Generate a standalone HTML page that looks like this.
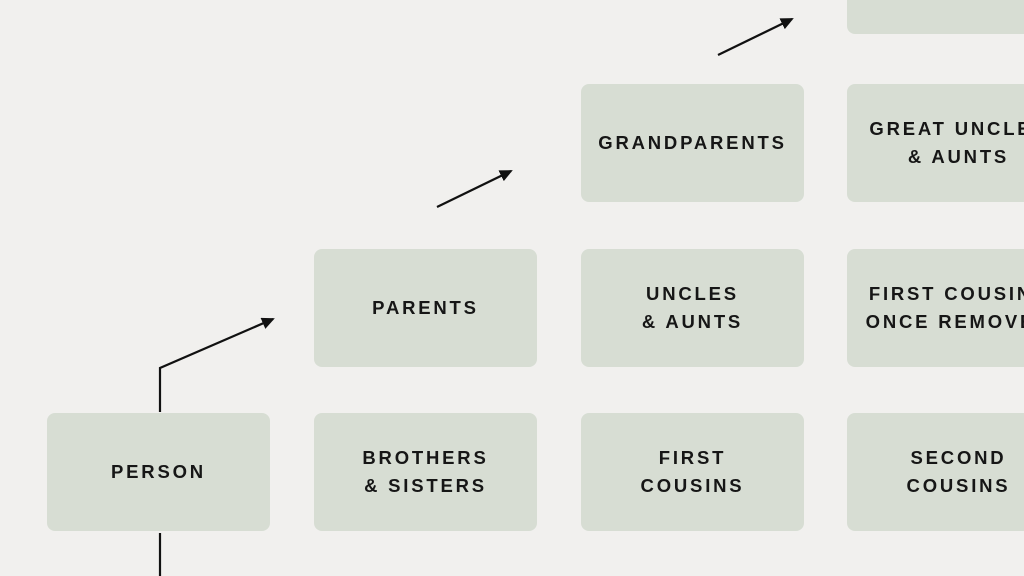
<!DOCTYPE html>
<html><head><style>
html,body{margin:0;padding:0;}
body{width:1024px;height:576px;background:#f1f0ee;position:relative;overflow:hidden;font-family:"Liberation Sans",sans-serif;}
.b{position:absolute;width:223px;height:118px;background:#d7ddd3;border-radius:8px;display:flex;align-items:center;justify-content:center;text-align:center;font-weight:bold;font-size:18.5px;letter-spacing:2.8px;line-height:28px;color:#161616;white-space:nowrap;}
svg{position:absolute;left:0;top:0;}
</style></head><body>
<div class="b" style="left:47px;top:413px">PERSON</div>
<div class="b" style="left:314px;top:413px">BROTHERS<br>&amp; SISTERS</div>
<div class="b" style="left:581px;top:413px">FIRST<br>COUSINS</div>
<div class="b" style="left:847px;top:413px">SECOND<br>COUSINS</div>
<div class="b" style="left:314px;top:249px">PARENTS</div>
<div class="b" style="left:581px;top:249px">UNCLES<br>&amp; AUNTS</div>
<div class="b" style="left:847px;top:249px">FIRST COUSINS<br>ONCE REMOVED</div>
<div class="b" style="left:581px;top:84px">GRANDPARENTS</div>
<div class="b" style="left:847px;top:84px">GREAT UNCLES<br>&amp; AUNTS</div>
<div class="b" style="left:847px;top:-84px"></div>
<svg width="1024" height="576">
<defs><marker id="a" markerWidth="13" markerHeight="12" refX="11" refY="6" orient="auto" markerUnits="userSpaceOnUse"><path d="M0,0 L13,6 L0,12 z" fill="#111"/></marker></defs>
<g stroke="#111" stroke-width="2.2" fill="none">
<polyline points="160,412 160,368 273,319" marker-end="url(#a)"/>
<line x1="160" y1="533" x2="160" y2="576"/>
<line x1="437" y1="207" x2="511" y2="171" marker-end="url(#a)"/>
<line x1="718" y1="55" x2="792" y2="19" marker-end="url(#a)"/>
</g>
</svg>
</body></html>
